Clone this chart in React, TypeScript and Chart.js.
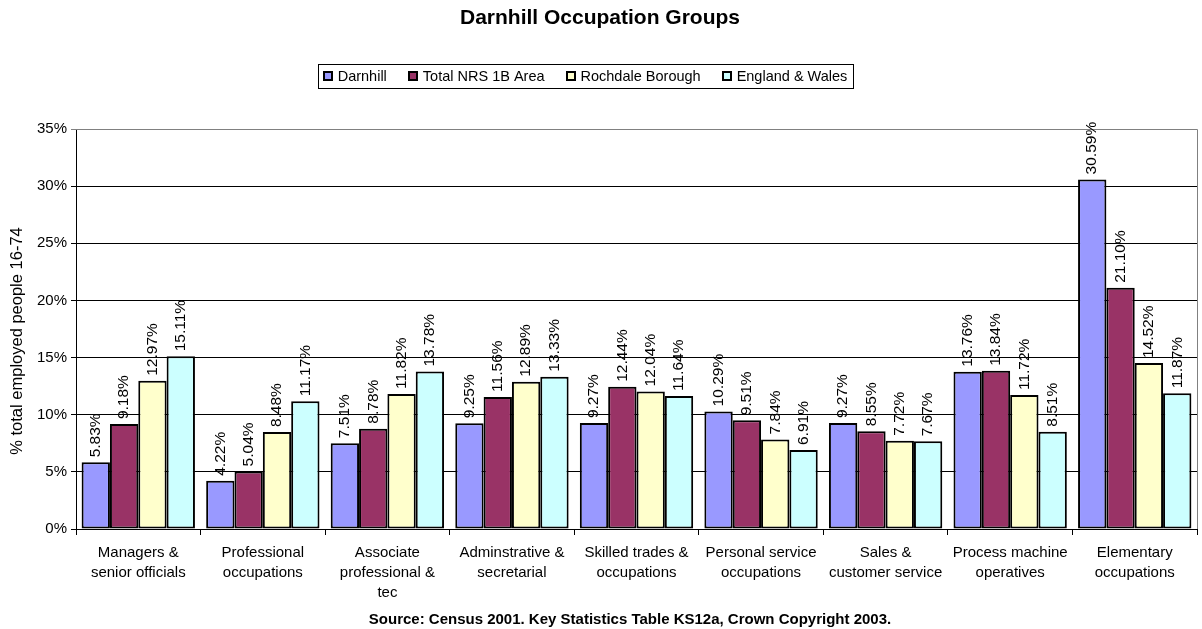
import React, { useEffect, useRef } from "react";
import { Chart, registerables } from "chart.js";

Chart.register(...registerables);

const categories: string[][] = [
  ["Managers &", "senior officials"],
  ["Professional", "occupations"],
  ["Associate", "professional &", "tec"],
  ["Adminstrative &", "secretarial"],
  ["Skilled trades &", "occupations"],
  ["Personal service", "occupations"],
  ["Sales &", "customer service"],
  ["Process machine", "operatives"],
  ["Elementary", "occupations"],
];

const seriesNames = ["Darnhill", "Total NRS 1B Area", "Rochdale Borough", "England & Wales"];
const darnhill = [5.83, 4.22, 7.51, 9.25, 9.27, 10.29, 9.27, 13.76, 30.59];
const totalNrs = [9.18, 5.04, 8.78, 11.56, 12.44, 9.51, 8.55, 13.84, 21.1];
const rochdale = [12.97, 8.48, 11.82, 12.89, 12.04, 7.84, 7.72, 11.72, 14.52];
const englandWales = [15.11, 11.17, 13.78, 13.33, 11.64, 6.91, 7.67, 8.51, 11.87];
const seriesColors = ["#9999FF", "#993366", "#FFFFCC", "#CCFFFF"];

const titleText = "Darnhill Occupation Groups";
const yTitleText = "% total employed people 16-74";
const sourceText = "Source: Census 2001. Key Statistics Table KS12a, Crown Copyright 2003.";
const FONT = "'Liberation Sans', Arial, sans-serif";

const decorPlugin = {
  id: "decor",
  beforeDatasetsDraw(chart: any) {
    const { ctx, chartArea } = chart;
    ctx.save();
    ctx.strokeStyle = "#808080";
    ctx.lineWidth = 1;
    ctx.beginPath();
    ctx.moveTo(chartArea.left, Math.round(chartArea.top) + 0.5);
    ctx.lineTo(Math.round(chartArea.right) + 0.5, Math.round(chartArea.top) + 0.5);
    ctx.lineTo(Math.round(chartArea.right) + 0.5, chartArea.bottom);
    ctx.stroke();
    ctx.restore();
  },
  afterDatasetsDraw(chart: any) {
    const { ctx } = chart;
    ctx.save();
    ctx.font = `15.5px ${FONT}`;
    ctx.fillStyle = "#000";
    ctx.textAlign = "left";
    ctx.textBaseline = "middle";
    chart.data.datasets.forEach((ds: any, i: number) => {
      const meta = chart.getDatasetMeta(i);
      meta.data.forEach((bar: any, j: number) => {
        const v = ds.data[j];
        ctx.save();
        ctx.translate(bar.x, bar.y - 5);
        ctx.rotate(-Math.PI / 2);
        ctx.fillText(v.toFixed(2) + "%", 0, 0);
        ctx.restore();
      });
    });
    ctx.restore();
  },
  afterDraw(chart: any) {
    const { ctx } = chart;
    ctx.save();
    // Title
    ctx.fillStyle = "#000";
    ctx.font = `bold 21px ${FONT}`;
    ctx.textAlign = "center";
    ctx.textBaseline = "middle";
    ctx.fillText(titleText, 600, 18);
    // Source
    ctx.font = `bold 15px ${FONT}`;
    ctx.fillText(sourceText, 630, 620);
    // Y title
    ctx.save();
    ctx.font = `16.5px ${FONT}`;
    ctx.translate(17, 341);
    ctx.rotate(-Math.PI / 2);
    ctx.fillText(yTitleText, 0, 0);
    ctx.restore();
    // Legend
    ctx.font = `14.5px ${FONT}`;
    const sq = 8;
    const gapAfterSq = 6;
    const gapItems = 22;
    const widths = seriesNames.map((n) => ctx.measureText(n).width);
    const total = widths.reduce((a, w) => a + sq + gapAfterSq + w, 0) + gapItems * (seriesNames.length - 1);
    const boxL = 318, boxR = 853, boxT = 64, boxB = 88;
    ctx.strokeStyle = "#000";
    ctx.lineWidth = 1;
    ctx.strokeRect(boxL + 0.5, boxT + 0.5, boxR - boxL, boxB - boxT);
    let x = (boxL + boxR) / 2 - total / 2;
    const cy = (boxT + boxB) / 2;
    ctx.textAlign = "left";
    seriesNames.forEach((n, i) => {
      ctx.fillStyle = seriesColors[i];
      ctx.fillRect(Math.round(x), Math.round(cy - sq / 2), sq, sq);
      ctx.lineWidth = 2;
      ctx.strokeStyle = "#000";
      ctx.strokeRect(Math.round(x), Math.round(cy - sq / 2), sq, sq);
      x += sq + gapAfterSq;
      ctx.fillStyle = "#000";
      ctx.fillText(n, x, cy + 1);
      x += widths[i] + gapItems;
    });
    ctx.restore();
  },
};

export default function App() {
  const ref = useRef<HTMLCanvasElement | null>(null);
  useEffect(() => {
    if (!ref.current) return;
    const allSeries = [darnhill, totalNrs, rochdale, englandWales];
    const chart = new Chart(ref.current, {
      type: "bar",
      data: {
        labels: categories as any,
        datasets: allSeries.map((d, i) => ({
          label: seriesNames[i],
          data: d,
          backgroundColor: seriesColors[i],
          borderColor: "#000",
          borderWidth: 2,
          borderSkipped: false,
          categoryPercentage: 0.91,
          barPercentage: 1,
        })),
      },
      options: {
        animation: false,
        responsive: true,
        maintainAspectRatio: false,
        layout: { padding: { top: 129, left: 0, right: 5, bottom: 0 } },
        plugins: {
          legend: { display: false },
          title: { display: false },
          tooltip: { enabled: false },
        },
        scales: {
          x: {
            afterFit(scale: any) {
              scale.height = 100;
            },
            grid: {
              offset: true,
              drawOnChartArea: false,
              drawTicks: true,
              tickLength: 6,
              color: "#000",
            },
            border: { color: "#000", width: 1 },
            ticks: {
              autoSkip: false,
              maxRotation: 0,
              minRotation: 0,
              padding: 8,
              color: "#000",
              font: { family: FONT, size: 15, lineHeight: 1.333 },
            },
          },
          y: {
            min: 0,
            max: 35,
            afterFit(scale: any) {
              scale.width = 76;
            },
            grid: {
              color: (c: any) => (c.tick && c.tick.value === 35 ? "#808080" : "#000"),
              tickLength: 5,
              drawTicks: true,
            },
            border: { color: "#000", width: 1 },
            ticks: {
              stepSize: 5,
              padding: 4,
              color: "#000",
              font: { family: FONT, size: 15 },
              callback: (v: any) => v + "%",
            },
          },
        },
      },
      plugins: [decorPlugin],
    });
    return () => chart.destroy();
  }, []);
  return (
    <div style={{ position: "absolute", left: 0, top: 0, width: 1202, height: 629, background: "#fff" }}>
      <canvas ref={ref} />
    </div>
  );
}
